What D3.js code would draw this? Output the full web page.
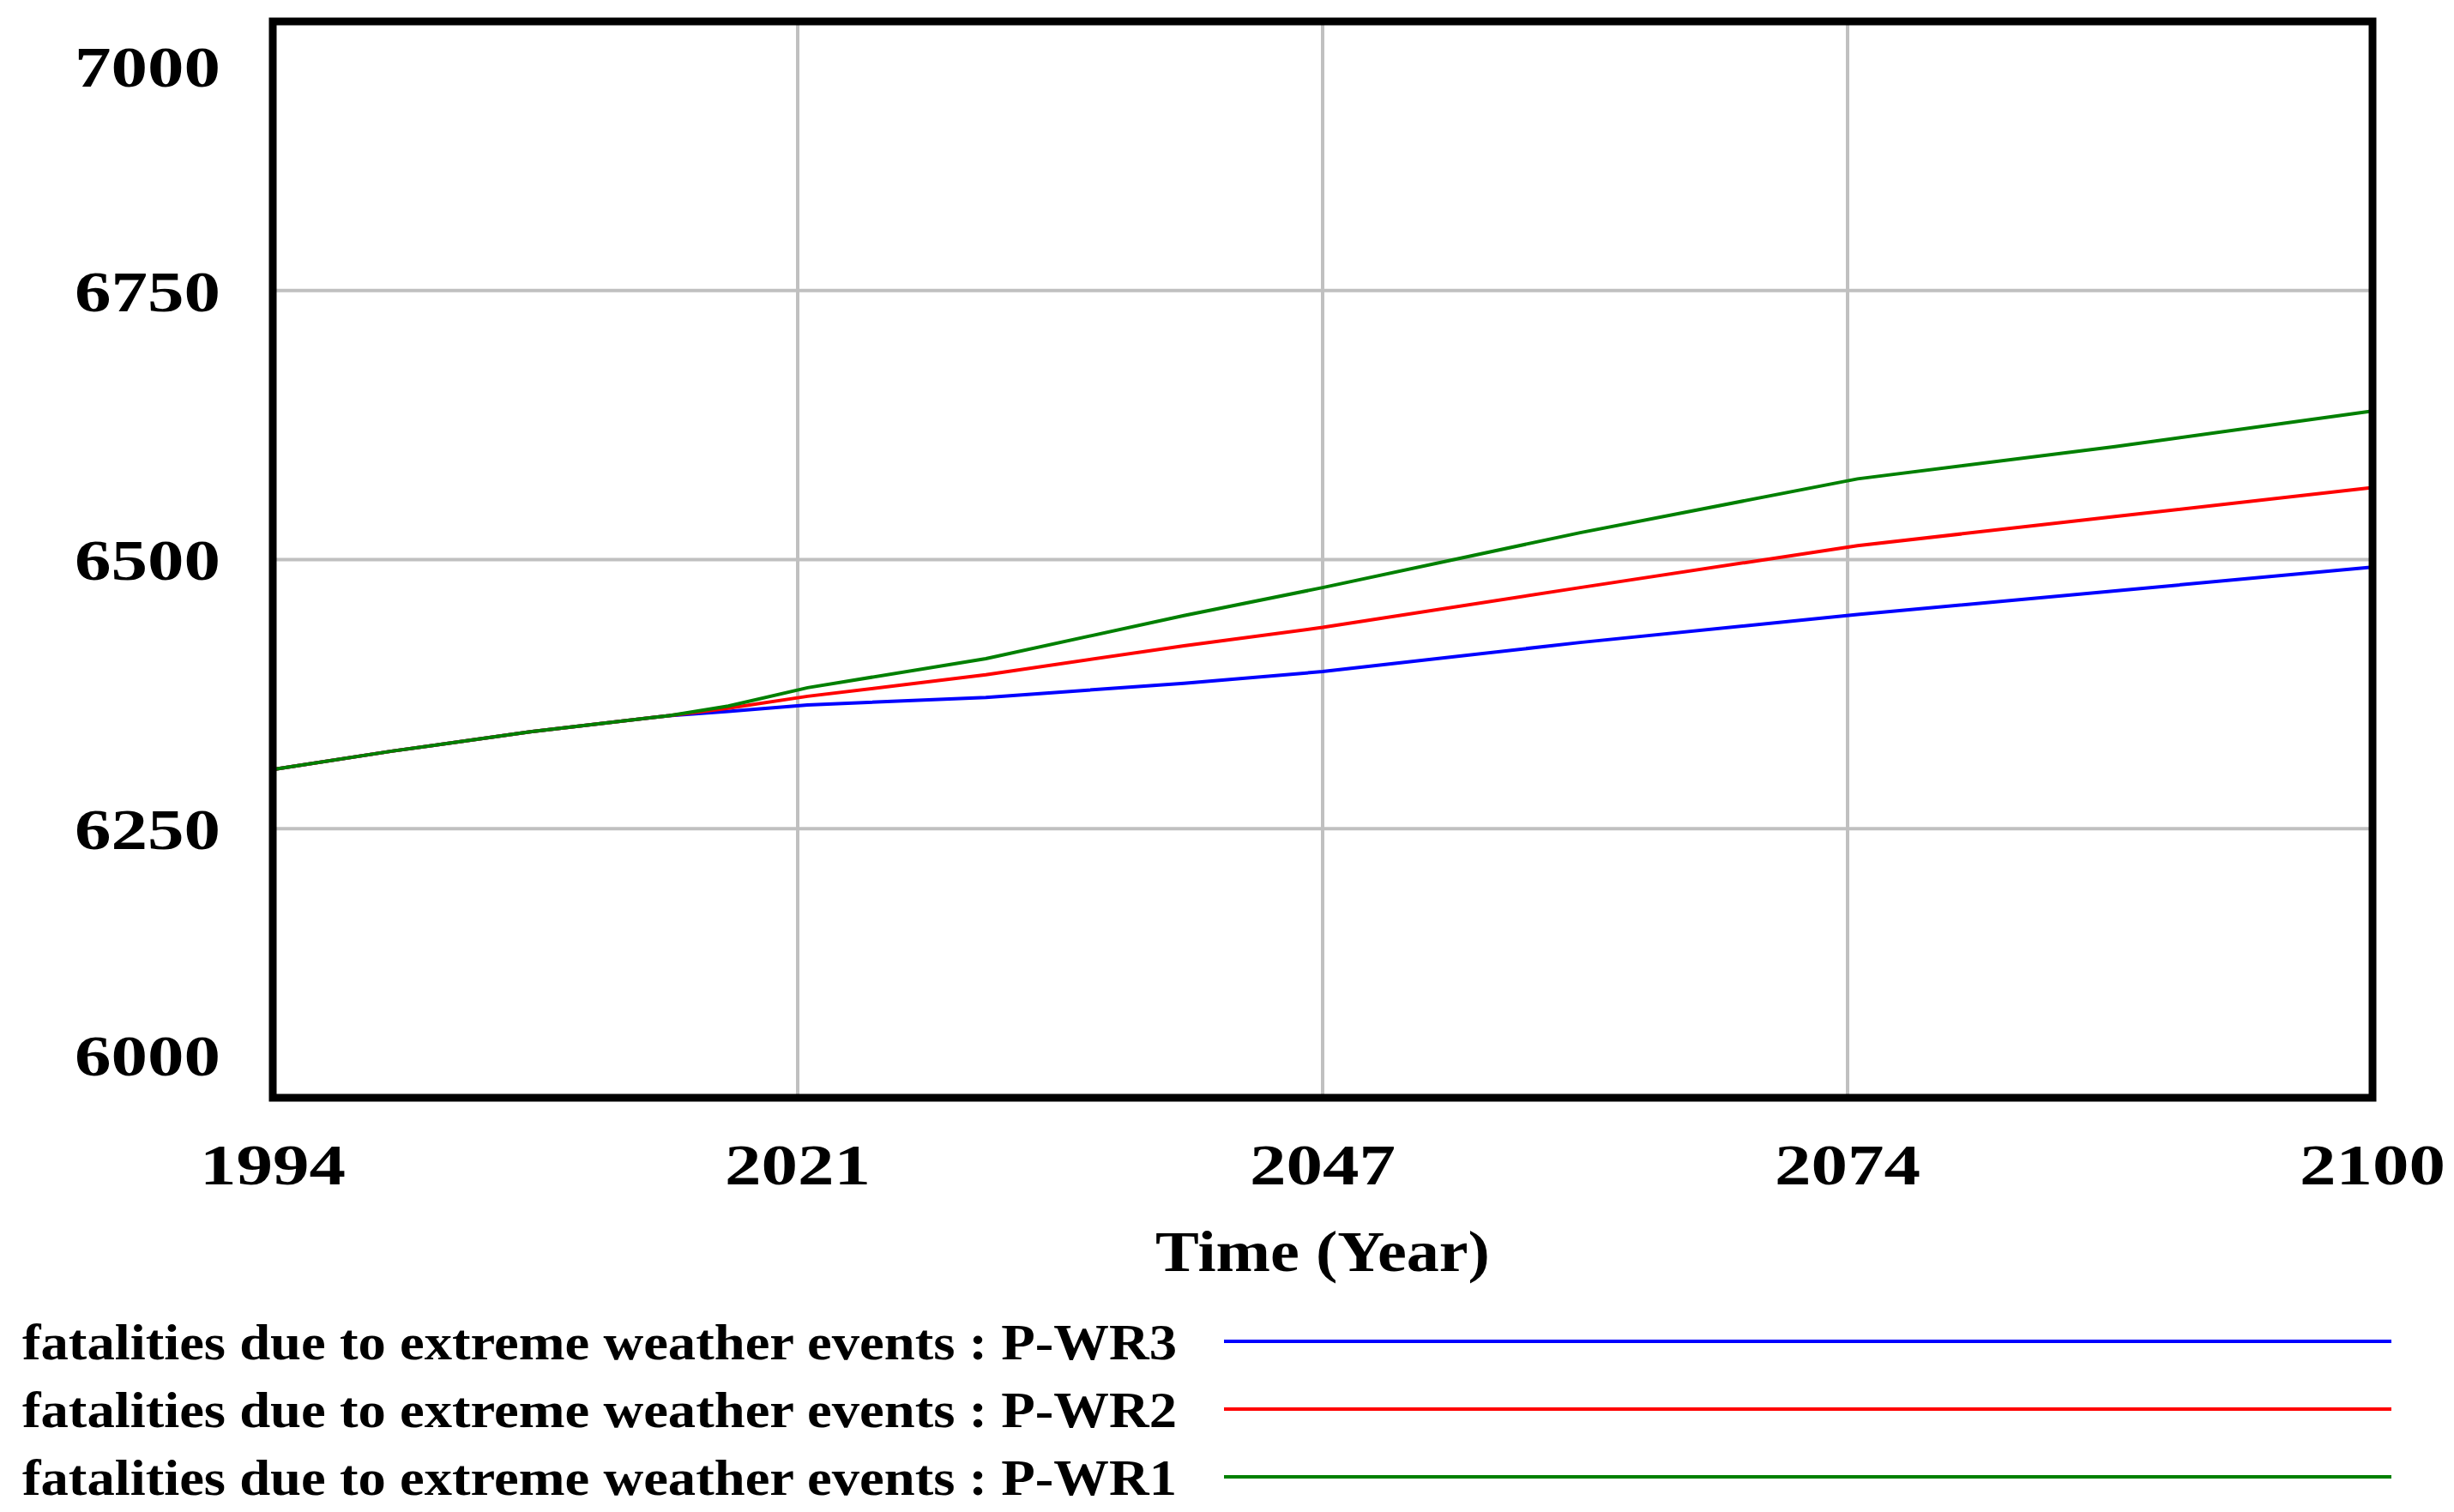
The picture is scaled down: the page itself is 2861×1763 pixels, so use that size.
<!DOCTYPE html>
<html>
<head>
<meta charset="utf-8">
<script src="https://cdn.jsdelivr.net/npm/d3@7"></script>
<style>
  body { margin: 0; background: #fff; }
  text { font-family: "Liberation Serif", "Times New Roman", serif; font-weight: bold; fill: #000; }
</style>
</head>
<body>
<svg id="chart"></svg>
<script>
var years = [1994, 2000, 2007, 2014, 2017, 2021, 2030, 2040, 2047, 2060, 2074, 2087, 2100]
var wr3 = [6305, 6322, 6340, 6355, 6359, 6365, 6372, 6385, 6396, 6423, 6449, 6471, 6493]
var wr2 = [6305, 6322, 6340, 6355, 6362, 6373, 6393, 6420, 6437, 6474, 6513, 6540, 6567]
var wr1 = [6305, 6322, 6340, 6355, 6364, 6381, 6408, 6448, 6474, 6525, 6575, 6605, 6638]
var yTicks = [6000, 6250, 6500, 6750, 7000]
var xTicks = [1994, 2020.5, 2047, 2073.5, 2100]
var seriesNames = ['fatalities due to extreme weather events : P-WR3',
                   'fatalities due to extreme weather events : P-WR2',
                   'fatalities due to extreme weather events : P-WR1']
var seriesColors = ['#0000ff', '#ff0000', '#008000']

var width = 2861, height = 1763
var pLeft = 318, pRight = 2766, pTop = 25, pBottom = 1280

var svg = d3.select('#chart').attr('width', width).attr('height', height)

var x = d3.scaleLinear().domain([1994, 2100]).range([pLeft, pRight])
var y = d3.scaleLinear().domain([6000, 7000]).range([pBottom, pTop])

// grid
svg.selectAll('.gy').data(yTicks.slice(1, -1)).enter().append('line')
    .attr('x1', pLeft).attr('x2', pRight)
    .attr('y1', d => y(d)).attr('y2', d => y(d))
    .attr('stroke', '#c0c0c0').attr('stroke-width', 4)
svg.selectAll('.gx').data(xTicks.slice(1, -1)).enter().append('line')
    .attr('y1', pTop).attr('y2', pBottom)
    .attr('x1', d => x(d)).attr('x2', d => x(d))
    .attr('stroke', '#c0c0c0').attr('stroke-width', 4)

// series
var all = [wr3, wr2, wr1]
var line = d3.line().x((d, i) => x(years[i])).y(d => y(d))
all.forEach(function(s, k) {
    svg.append('path').datum(s).attr('d', line)
        .attr('fill', 'none').attr('stroke', seriesColors[k]).attr('stroke-width', 4)
})

// frame
svg.append('rect').attr('x', pLeft).attr('y', pTop)
    .attr('width', pRight - pLeft).attr('height', pBottom - pTop)
    .attr('fill', 'none').attr('stroke', '#000').attr('stroke-width', 9)

// y labels
svg.selectAll('.yl').data(yTicks).enter().append('text')
    .attr('x', 257)
    .attr('y', d => Math.min(pBottom - 50, Math.max(pTop + 52, y(d))))
    .attr('dy', '0.35em').attr('text-anchor', 'end')
    .attr('font-size', 68).attr('textLength', 170).attr('lengthAdjust', 'spacingAndGlyphs')
    .text(d => d)

// x labels
svg.selectAll('.xl').data(xTicks).enter().append('text')
    .attr('x', d => x(d)).attr('y', 1357).attr('dy', '0.35em')
    .attr('text-anchor', 'middle').attr('font-size', 68)
    .attr('textLength', 170).attr('lengthAdjust', 'spacingAndGlyphs')
    .text(d => Math.round(d))

svg.append('text').attr('x', (pLeft + pRight) / 2).attr('y', 1458).attr('dy', '0.35em')
    .attr('text-anchor', 'middle').attr('font-size', 68)
    .attr('textLength', 390).attr('lengthAdjust', 'spacingAndGlyphs')
    .text('Time (Year)')

// legend
seriesNames.forEach(function(name, k) {
    var ly = 1564 + k * 79
    svg.append('text').attr('x', 26).attr('y', ly).attr('dy', '0.35em')
        .attr('font-size', 60).attr('textLength', 1346).attr('lengthAdjust', 'spacingAndGlyphs')
        .text(name)
    svg.append('line').attr('x1', 1427).attr('x2', 2788)
        .attr('y1', ly).attr('y2', ly)
        .attr('stroke', seriesColors[k]).attr('stroke-width', 4)
})
</script>
</body>
</html>
